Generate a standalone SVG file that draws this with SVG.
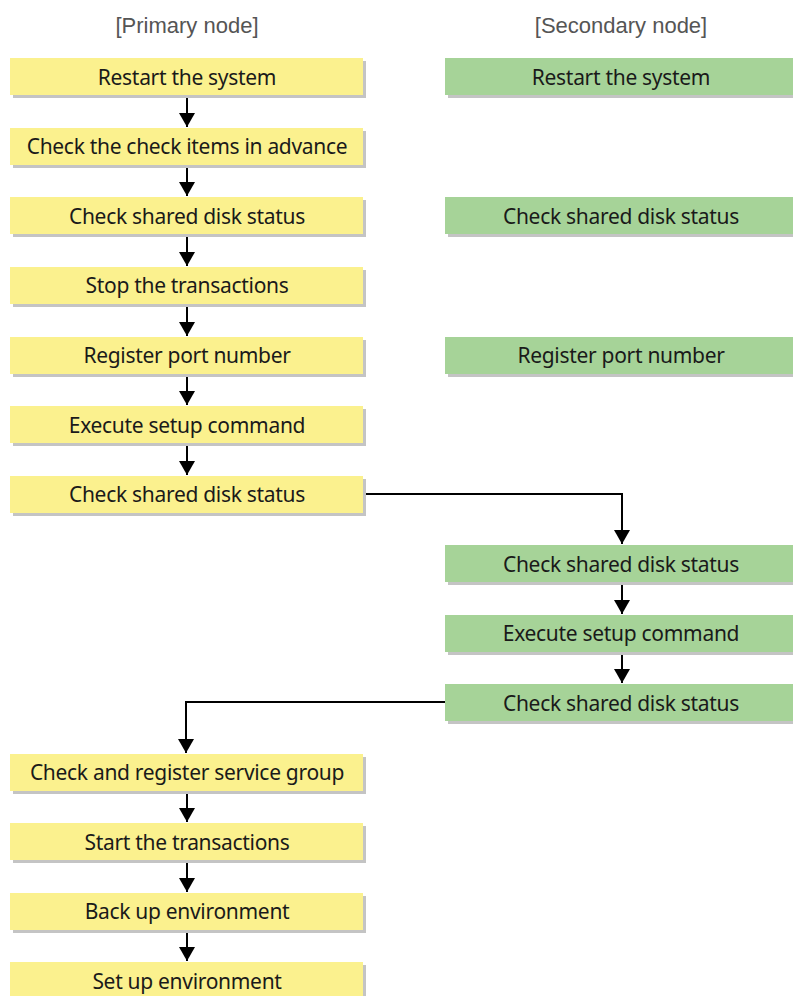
<svg xmlns="http://www.w3.org/2000/svg" width="793" height="996" viewBox="0 0 793 996">
<defs>
<style>
.p{fill:#fbf18e}
.s{fill:#a6d398}
.sh{fill:#c4c4c4}
.t{font-family:"Noto Sans","Open Sans",sans-serif;font-size:21px;fill:#1a1a1a;text-anchor:middle;dominant-baseline:central;letter-spacing:-0.3px}
.h{font-family:"Liberation Sans",Arial,sans-serif;font-size:22px;fill:#555;text-anchor:middle}
.c{fill:none;stroke:#000;stroke-width:2}
</style>
<marker id="a" markerWidth="14" markerHeight="16" refX="14" refY="8" orient="auto" markerUnits="userSpaceOnUse" viewBox="0 0 14 16">
<path d="M0,0 L14,8 L0,16 Z" fill="#000"/>
</marker>
</defs>
<text class="h" x="187" y="33">[Primary node]</text>
<text class="h" x="621" y="33">[Secondary node]</text>
<g id="connectors">
<path class="c" d="M187,96 V127" marker-end="url(#a)"/>
<path class="c" d="M187,165 V196" marker-end="url(#a)"/>
<path class="c" d="M187,235 V266" marker-end="url(#a)"/>
<path class="c" d="M187,304 V336" marker-end="url(#a)"/>
<path class="c" d="M187,374 V405" marker-end="url(#a)"/>
<path class="c" d="M187,443 V475" marker-end="url(#a)"/>
<path class="c" d="M363,494 H622 V544" marker-end="url(#a)"/>
<path class="c" d="M622,582 V614" marker-end="url(#a)"/>
<path class="c" d="M622,652 V683" marker-end="url(#a)"/>
<path class="c" d="M445,702 H186 V753" marker-end="url(#a)"/>
<path class="c" d="M187,791 V822" marker-end="url(#a)"/>
<path class="c" d="M187,860 V892" marker-end="url(#a)"/>
<path class="c" d="M187,930 V961" marker-end="url(#a)"/>
</g>
<g id="p1"><rect class="sh" x="13" y="61" width="353" height="37"/><rect class="p" x="10" y="58" width="353" height="37"/><text class="t" x="187" y="76.5">Restart the system</text></g>
<g id="p2"><rect class="sh" x="13" y="131" width="353" height="37"/><rect class="p" x="10" y="128" width="353" height="37"/><text class="t" x="187" y="146">Check the check items in advance</text></g>
<g id="p3"><rect class="sh" x="13" y="200" width="353" height="37"/><rect class="p" x="10" y="197" width="353" height="37"/><text class="t" x="187" y="215.5">Check shared disk status</text></g>
<g id="p4"><rect class="sh" x="13" y="270" width="353" height="37"/><rect class="p" x="10" y="267" width="353" height="37"/><text class="t" x="187" y="285">Stop the transactions</text></g>
<g id="p5"><rect class="sh" x="13" y="340" width="353" height="37"/><rect class="p" x="10" y="337" width="353" height="37"/><text class="t" x="187" y="355">Register port number</text></g>
<g id="p6"><rect class="sh" x="13" y="409" width="353" height="37"/><rect class="p" x="10" y="406" width="353" height="37"/><text class="t" x="187" y="424.5">Execute setup command</text></g>
<g id="p7"><rect class="sh" x="13" y="479" width="353" height="37"/><rect class="p" x="10" y="476" width="353" height="37"/><text class="t" x="187" y="494">Check shared disk status</text></g>
<g id="p8"><rect class="sh" x="13" y="757" width="353" height="37"/><rect class="p" x="10" y="754" width="353" height="37"/><text class="t" x="187" y="772">Check and register service group</text></g>
<g id="p9"><rect class="sh" x="13" y="826" width="353" height="37"/><rect class="p" x="10" y="823" width="353" height="37"/><text class="t" x="187" y="841.5">Start the transactions</text></g>
<g id="p10"><rect class="sh" x="13" y="896" width="353" height="37"/><rect class="p" x="10" y="893" width="353" height="37"/><text class="t" x="187" y="911">Back up environment</text></g>
<g id="p11"><rect class="sh" x="13" y="965" width="353" height="37"/><rect class="p" x="10" y="962" width="353" height="37"/><text class="t" x="187" y="980.5">Set up environment</text></g>
<g id="s1"><rect class="sh" x="448" y="61" width="350" height="37"/><rect class="s" x="445" y="58" width="350" height="37"/><text class="t" x="621" y="76.5">Restart the system</text></g>
<g id="s2"><rect class="sh" x="448" y="200" width="350" height="37"/><rect class="s" x="445" y="197" width="350" height="37"/><text class="t" x="621" y="215.5">Check shared disk status</text></g>
<g id="s3"><rect class="sh" x="448" y="340" width="350" height="37"/><rect class="s" x="445" y="337" width="350" height="37"/><text class="t" x="621" y="355">Register port number</text></g>
<g id="s4"><rect class="sh" x="448" y="548" width="350" height="37"/><rect class="s" x="445" y="545" width="350" height="37"/><text class="t" x="621" y="563.5">Check shared disk status</text></g>
<g id="s5"><rect class="sh" x="448" y="618" width="350" height="37"/><rect class="s" x="445" y="615" width="350" height="37"/><text class="t" x="621" y="633">Execute setup command</text></g>
<g id="s6"><rect class="sh" x="448" y="687" width="350" height="37"/><rect class="s" x="445" y="684" width="350" height="37"/><text class="t" x="621" y="702.5">Check shared disk status</text></g>
</svg>
